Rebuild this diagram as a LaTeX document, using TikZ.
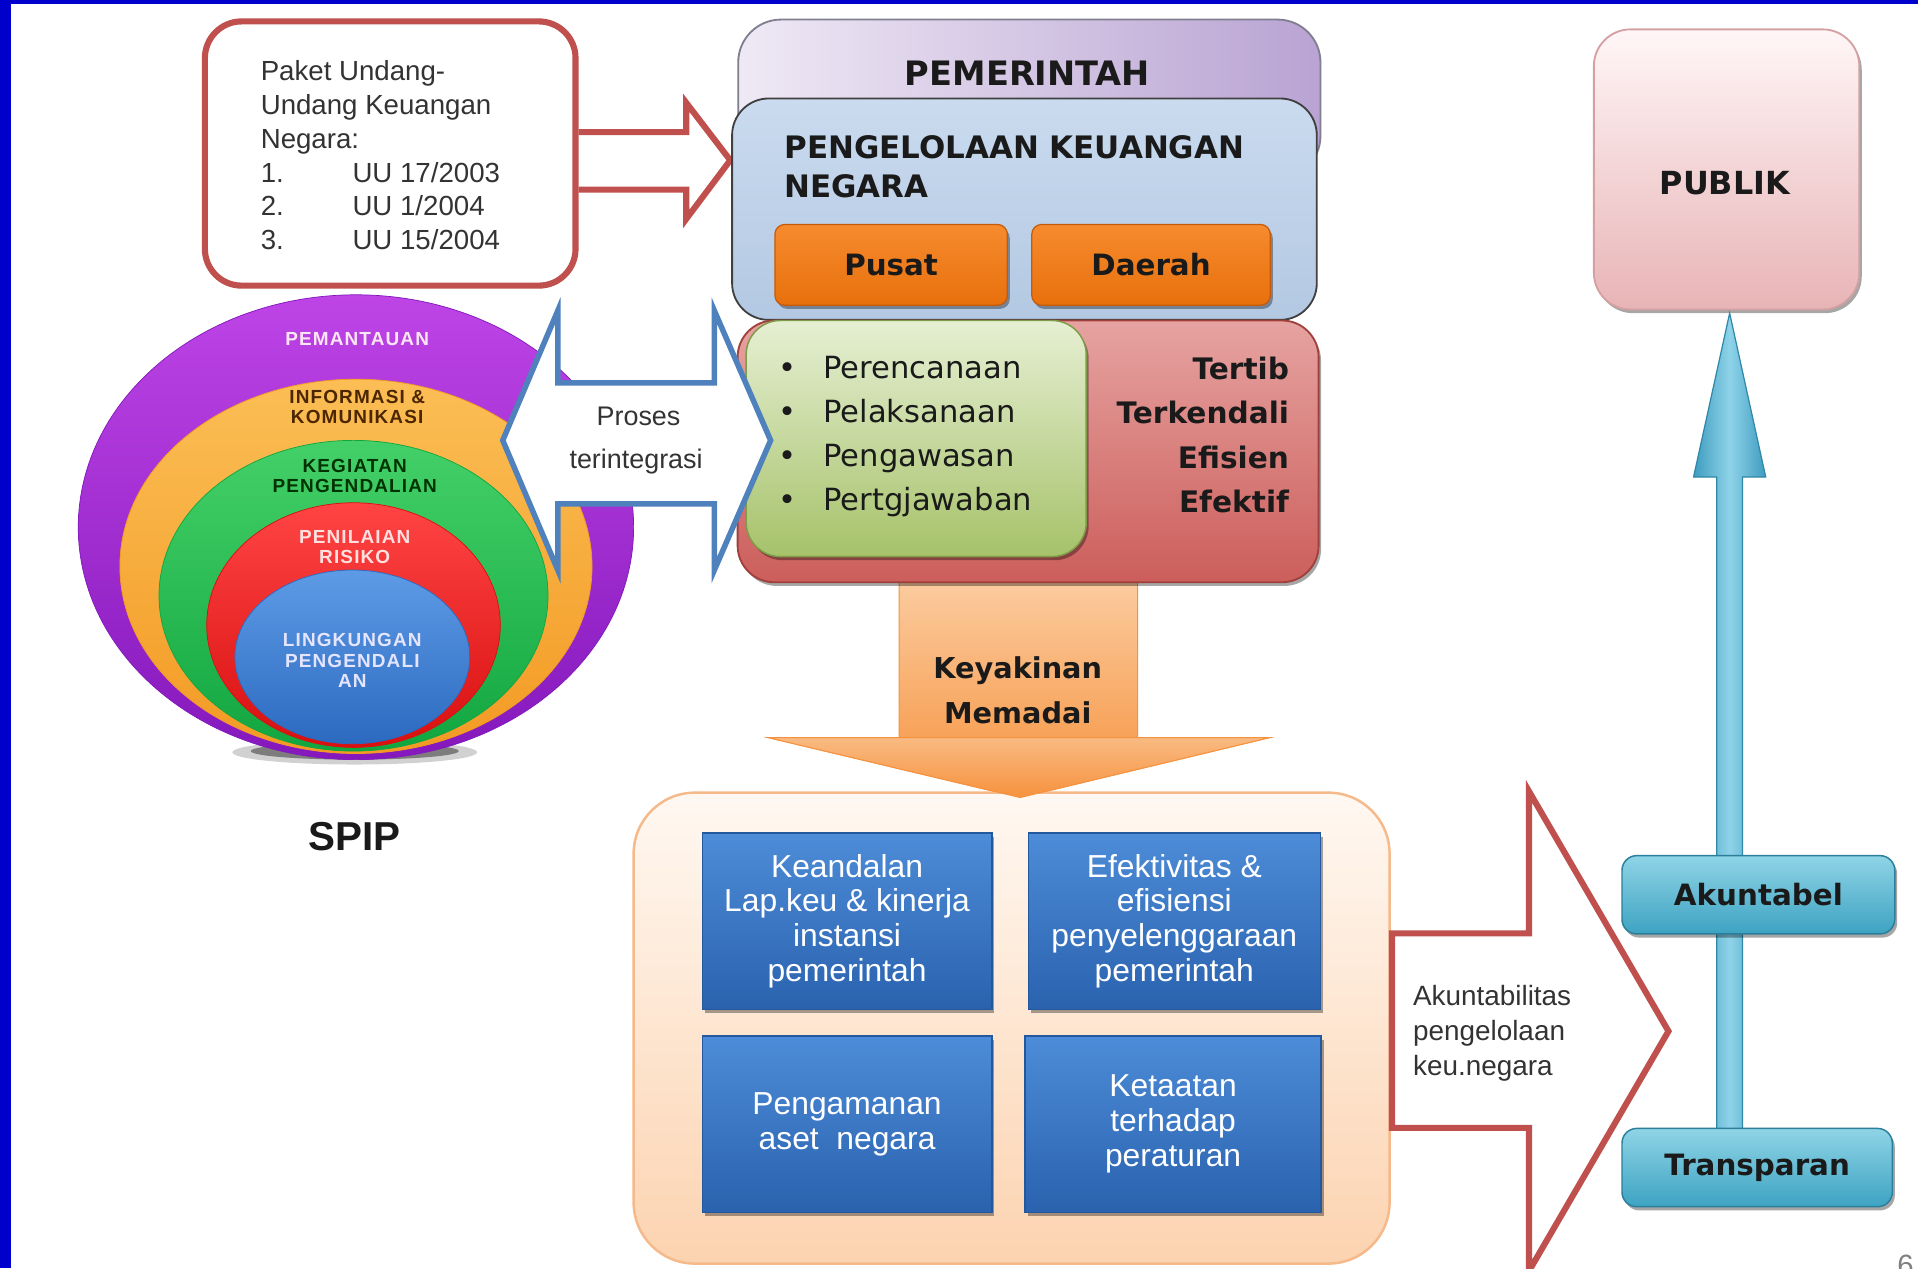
\documentclass[tikz,border=0pt]{standalone}
\usepackage{fontspec}
\setmainfont{Liberation Sans}
\newfontfamily\dvs{DejaVu Sans}
\newfontfamily\lblf{Liberation Sans}[LetterSpace=6]
\usetikzlibrary{calc,shadows}
\newcommand\fsz[2]{\fontsize{#1}{#2}\selectfont}
\definecolor{frameblue}{HTML}{0000CC}
\definecolor{pred}{HTML}{C0504D}
\definecolor{pblue}{HTML}{4F81BD}
\definecolor{txtd}{HTML}{1A1A1A}
\definecolor{txtg}{HTML}{333333}
\definecolor{pemL}{HTML}{EFE9F5}
\definecolor{pemR}{HTML}{B9A3D3}
\definecolor{pemD}{HTML}{7F7F8F}
\definecolor{pkT}{HTML}{CADBEF}
\definecolor{pkB}{HTML}{B3C8E2}
\definecolor{orT}{HTML}{F68B2E}
\definecolor{orB}{HTML}{E8700C}
\definecolor{orD}{HTML}{C55A0A}
\definecolor{rdT}{HTML}{E6A3A1}
\definecolor{rdB}{HTML}{CC5E5B}
\definecolor{rdD}{HTML}{A0403D}
\definecolor{grT}{HTML}{E6EFD3}
\definecolor{grB}{HTML}{A6C26A}
\definecolor{grD}{HTML}{7E9C48}
\definecolor{oaT}{HTML}{FBCB9E}
\definecolor{oaB}{HTML}{F6923E}
\definecolor{peT}{HTML}{FFF8F2}
\definecolor{peB}{HTML}{FCD3B0}
\definecolor{peD}{HTML}{F5B98A}
\definecolor{bbT}{HTML}{4D8CD8}
\definecolor{bbB}{HTML}{2A62AE}
\definecolor{bbD}{HTML}{24589C}
\definecolor{cyL}{HTML}{3F9CC0}
\definecolor{cyM}{HTML}{8ED3E8}
\definecolor{cyD}{HTML}{2F88A8}
\definecolor{akT}{HTML}{8FD4E6}
\definecolor{akB}{HTML}{3DA3C2}
\definecolor{akD}{HTML}{2B7F9A}
\definecolor{puT}{HTML}{FFF6F7}
\definecolor{puB}{HTML}{E8B4B6}
\definecolor{puD}{HTML}{D4A0A2}
\definecolor{c1T}{HTML}{BE44E6}
\definecolor{c1B}{HTML}{8418BC}
\definecolor{c2T}{HTML}{FBBE55}
\definecolor{c2B}{HTML}{F39A24}
\definecolor{c3T}{HTML}{44D068}
\definecolor{c3B}{HTML}{12A640}
\definecolor{c4T}{HTML}{FF4444}
\definecolor{c4B}{HTML}{D81010}
\definecolor{c5T}{HTML}{5E9BE6}
\definecolor{c5B}{HTML}{2C6AC0}
\begin{document}
\begin{tikzpicture}[x=1pt,y=-1pt,
  shad/.style={drop shadow={shadow xshift=2pt,shadow yshift=-3pt,opacity=0.35,fill=black}},
  lbl/.style={font=\lblf\bfseries\fsz{15.5}{16.5},align=center,inner sep=0pt},
  bbox/.style={draw=bbD,line width=1pt,top color=bbT,bottom color=bbB,shad,
    minimum height=144pt,text=white,font=\fsz{26}{28.5},align=center,inner sep=0pt},
  orbox/.style={draw=orD,line width=1pt,top color=orT,bottom color=orB,rounded corners=8pt,shad,
    minimum width=190pt,minimum height=66pt,font=\dvs\bfseries\fsz{24}{28},text=txtd},
  akbox/.style={draw=akD,line width=1.2pt,top color=akT,bottom color=akB,rounded corners=12pt,shad,
    minimum height=64pt,font=\dvs\bfseries\fsz{24}{28},text=txtd}
]
\useasboundingbox (0,0) rectangle (1568,1037);
\clip (0,0) rectangle (1568,1037);
\fill[white] (0,0) rectangle (1568,1037);

% ---------------- SPIP circles
\fill[black,opacity=0.18] (290,615) ellipse [x radius=100, y radius=10];
\fill[black,opacity=0.4] (290,614) ellipse [x radius=85, y radius=7];
\path[top color=c1T,bottom color=c1B,draw=c1B,line width=0.6pt] (291,431) ellipse [x radius=227, y radius=190];
\path[top color=c2T,bottom color=c2B,draw=c2B,line width=0.6pt] (291,463) ellipse [x radius=193, y radius=153];
\path[top color=c3T,bottom color=c3B,draw=c3B,line width=0.6pt] (289,487) ellipse [x radius=159, y radius=127];
\path[top color=c4T,bottom color=c4B,draw=c4B,line width=0.6pt] (289,511) ellipse [x radius=120, y radius=100];
\path[top color=c5T,bottom color=c5B,draw=c5B,line width=0.6pt] (288,537) ellipse [x radius=96, y radius=71];
\node[lbl,text=white!90!magenta] (lpem) at (292,277) {PEMANTAUAN};
\node[lbl,text=black!70!orange] (linf) at (292,333) {INFORMASI \&\\KOMUNIKASI};
\node[lbl,text=black!80!green] (lkeg) at (290,389) {KEGIATAN\\PENGENDALIAN};
\node[lbl,text=white!88!red] (lpen) at (290,447) {PENILAIAN\\RISIKO};
\node[lbl,text=white!90!blue] (lling) at (288,540) {LINGKUNGAN\\PENGENDALI\\AN};
\node[font=\bfseries\fsz{33}{36},text=txtd] (spip) at (290,684) {SPIP};

% ---------------- Paket box and arrow
\draw[draw=pred,line width=5pt,fill=white] (473,108) -- (561,108) -- (561,84) -- (597,131) -- (561,179) -- (561,155) -- (473,155);
\node[draw=pred,line width=5pt,rounded corners=30pt,fill=white,minimum width=303pt,minimum height=216pt] (paket) at (319,125.5) {};
\node[anchor=west,align=left,inner sep=0pt,font=\fsz{22.6}{27.6},text=txtg] (paketxt) at (213,127)
  {Paket Undang-\\Undang Keuangan\\Negara:\\\makebox[75pt][l]{1.}UU 17/2003\\\makebox[75pt][l]{2.}UU 1/2004\\\makebox[75pt][l]{3.}UU 15/2004};

% ---------------- Pemerintah block
\node[draw=pemD,line width=1.5pt,rounded corners=35pt,left color=pemL,right color=pemR,minimum width=476pt,minimum height=130pt] (pem) at (841.5,81) {};
\node[font=\dvs\bfseries\fsz{27.5}{30},text=txtd] (pemtxt) at (840,60) {PEMERINTAH};
\node[draw=black!75,line width=1.5pt,rounded corners=30pt,top color=pkT,bottom color=pkB,minimum width=478pt,minimum height=181pt] (pkn) at (837.5,171) {};
\node[font=\dvs\bfseries\fsz{25.3}{32},align=left,anchor=west,inner sep=0pt,text=txtd] (pkntxt) at (641,136) {PENGELOLAAN KEUANGAN\\NEGARA};
\node[orbox] (pusat) at (728.5,216.5) {Pusat};
\node[orbox,minimum width=195pt] (daerah) at (941,216.5) {Daerah};

% ---------------- orange arrow (behind red box)
\path[draw=oaB,line width=0.8pt,top color=oaT,bottom color=oaB] (735,476) -- (930,476) -- (930,603) -- (1038,603) -- (834,652) -- (628,603) -- (735,603) -- cycle;

\node[draw=rdD,line width=1.5pt,rounded corners=30pt,top color=rdT,bottom color=rdB,shad,minimum width=475pt,minimum height=214pt] (ctl) at (840.5,369) {};
\node[draw=grD,line width=1.2pt,rounded corners=28pt,top color=grT,bottom color=grB,shad,minimum width=278pt,minimum height=193pt] (grn) at (749,358.5) {};
\node[font=\dvs\fsz{25}{36},align=left,anchor=west,inner sep=0pt,text=txtd] (lst) at (636,357)
  {\makebox[37pt][l]{•}Perencanaan\\\makebox[37pt][l]{•}Pelaksanaan\\\makebox[37pt][l]{•}Pengawasan\\\makebox[37pt][l]{•}Pertgjawaban};
\node[font=\dvs\bfseries\fsz{24.2}{36.4},align=right,anchor=east,inner sep=0pt,text=txtd] (ttb) at (1054,355.5)
  {Tertib\\Terkendali\\Efisien\\Efektif};

% ---------------- Proses terintegrasi double arrow
\draw[draw=pblue,line width=4.5pt,fill=white] (411,360) -- (456,254) -- (456,313) -- (584,313) -- (584,254) -- (630,360) -- (584,466) -- (584,412) -- (456,412) -- (456,466) -- cycle;
\node[font=\fsz{22}{26},text=txtg] (proses) at (522,340) {Proses};
\node[font=\fsz{22}{26},text=txtg] (terint) at (520,377) {terintegrasi};

% ---------------- bottom peach box
\node[draw=peD,line width=2pt,rounded corners=50pt,top color=peT,bottom color=peB,minimum width=618pt,minimum height=385pt] (peach) at (827,840.5) {};
\path[draw=oaB,line width=0.8pt,top color=oaT!70!oaB,bottom color=oaB] (628,603) -- (1038,603) -- (834,652) -- cycle;
\node[font=\dvs\bfseries\fsz{23.5}{37},align=center,text=txtd] (yakin) at (832,564.5) {Keyakinan\\Memadai};
\node[bbox,minimum width=237pt] (b1) at (692.5,753) {Keandalan\\Lap.keu \& kinerja\\instansi\\pemerintah};
\node[bbox,minimum width=239pt] (b2) at (960,753) {Efektivitas \&\\efisiensi\\penyelenggaraan\\pemerintah};
\node[bbox,minimum width=237pt] (b3) at (692.5,919) {Pengamanan\\aset\ \ negara};
\node[bbox,minimum width=242pt] (b4) at (959,919) {Ketaatan\\terhadap\\peraturan};

% ---------------- red outline arrow to the right
\draw[draw=pred,line width=5pt,fill=white] (1138,763) -- (1250,763) -- (1250,647) -- (1364,843) -- (1250,1039) -- (1250,922) -- (1138,922) -- cycle;
\node[anchor=west,align=left,inner sep=0pt,font=\fsz{22.8}{28.5},text=txtg] (akt) at (1155,845) {Akuntabilitas\\pengelolaan\\keu.negara};

% ---------------- Publik column
\node[draw=puD,line width=1.5pt,rounded corners=30pt,top color=puT,bottom color=puB,shad,minimum width=217pt,minimum height=229pt] (publik) at (1411.5,138.5) {};
\node[font=\dvs\bfseries\fsz{26}{30},text=txtd] (publiktxt) at (1410,150) {PUBLIK};
\coordinate (cytip) at (1414,256);
\coordinate (cybase) at (1414,954);
\path[draw=cyD,line width=1pt,left color=cyL,right color=cyL,middle color=cyM]
  ($(cybase)+(-10.5,0)$) -- ($(cytip)+(-10.5,134)$) -- ($(cytip)+(-29.5,134)$) -- (cytip)
  -- ($(cytip)+(29.5,134)$) -- ($(cytip)+(10.5,134)$) -- ($(cybase)+(10.5,0)$) -- cycle;
\node[akbox,minimum width=223pt] (akuntabel) at (1437.5,731.5) {Akuntabel};
\node[akbox,minimum width=221pt] (transparan) at (1436.5,954.5) {Transparan};

% ---------------- frame and page number
\node[anchor=north west,inner sep=0pt,font=\fsz{24}{24},text=gray] (pg) at (1551,1026) {6};
\fill[frameblue] (0,0) rectangle (8.6,1037);
\fill[frameblue] (0,0) rectangle (1568,3.5);
\end{tikzpicture}
\end{document}
